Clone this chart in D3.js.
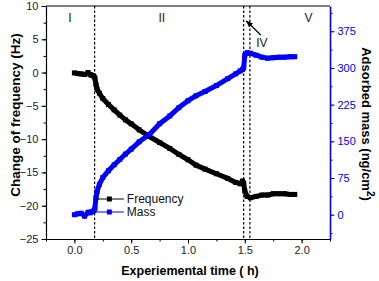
<!DOCTYPE html>
<html>
<head>
<meta charset="utf-8">
<script src="https://cdn.jsdelivr.net/npm/d3@7"></script>
<style>
  body { margin: 0; background: #fff; }
  text { font-family: "Liberation Sans", Arial, sans-serif; }
</style>
</head>
<body>
<svg id="chart" width="379" height="281"></svg>
<script>
// time (h) of each sample
const time = [0.00, 0.03, 0.06, 0.09, 0.12, 0.14, 0.15, 0.17, 0.18, 0.19, 0.20, 0.22, 0.25, 0.30,
  0.35, 0.40, 0.45, 0.50, 0.57, 0.66, 0.75, 0.84, 0.92, 1.00, 1.07, 1.15, 1.25, 1.35, 1.42,
  1.46, 1.48, 1.49, 1.50, 1.52, 1.55, 1.60, 1.65, 1.70, 1.75, 1.80, 1.85, 1.90, 1.94];
// change of frequency (Hz)
const frequency = [-0.05, -0.15, -0.2, -0.3, 0.0, -0.3, -0.4, -0.5, -0.8, -1.8, -2.5, -3.1, -3.9, -4.8,
  -5.6, -6.4, -7.1, -7.7, -8.6, -9.6, -10.5, -11.4, -12.3, -13.1, -13.9, -14.5, -15.2, -15.9, -16.5,
  -16.7, -16.3, -16.6, -17.8, -18.6, -18.8, -18.6, -18.4, -18.4, -18.2, -18.2, -18.2, -18.3, -18.3];
// adsorbed mass (ng/cm2)
const mass = [0, 2, 3, -3, 5, 4, 6, 8, 12, 35, 48, 62, 76, 90,
  102, 113, 124, 134, 149, 164, 186, 202, 219, 233, 243, 252, 264, 278, 288,
  294, 297, 300, 326, 331, 330, 326, 322, 320, 321, 322, 322, 323, 323];

const leftTicks = [10, 5, 0, -5, -10, -15, -20, -25];
const rightTicks = [0, 75, 150, 225, 300, 375];
const xTicks = [0.0, 0.5, 1.0, 1.5, 2.0];
const stageLines = [0.178, 1.49, 1.545];
const stageLabels = [
  { text: "I", t: -0.04 },
  { text: "II", t: 0.77 },
  { text: "V", t: 2.06 }
];

const svg = d3.select("#chart");
const margin = { top: 6, right: 49, bottom: 42, left: 46 };
const width = 379 - margin.left - margin.right;
const height = 281 - margin.top - margin.bottom;
const blue = "#0000ff";

const g = svg.append("g").attr("transform", `translate(${margin.left},${margin.top})`);

const x = d3.scaleLinear().domain([-0.25, 2.25]).range([0, width]);
const yL = d3.scaleLinear().domain([-25, 10]).range([height, 0]);
const yR = d3.scaleLinear().domain([-49.6, 426.6]).range([height, 0]);

// axes
const fmtX = d3.format(".1f");
const bottomMinor = d3.range(-0.25, 2.26, 0.25);
g.append("g")
  .attr("transform", `translate(0,${height})`)
  .call(d3.axisBottom(x).tickValues(bottomMinor).tickSize(2.5).tickFormat(""))
  .call(a => a.select(".domain").remove());
g.append("g")
  .attr("class", "xaxis")
  .attr("transform", `translate(0,${height})`)
  .call(d3.axisBottom(x).tickValues(xTicks).tickSize(4.5).tickSizeOuter(0).tickFormat(fmtX));

g.append("g")
  .call(d3.axisLeft(yL).tickValues(d3.range(-25, 10.1, 2.5)).tickSize(2.5).tickFormat(""))
  .call(a => a.select(".domain").remove());
g.append("g")
  .attr("class", "yaxis")
  .call(d3.axisLeft(yL).tickValues(leftTicks).tickSize(4.5).tickSizeOuter(0));

const rightMinor = d3.range(-37.5, 426, 37.5);
g.append("g")
  .attr("transform", `translate(${width},0)`)
  .call(d3.axisRight(yR).tickValues(rightMinor).tickSize(2.5).tickFormat(""))
  .call(a => a.select(".domain").remove())
  .selectAll("line").attr("stroke", blue);
const rAxis = g.append("g")
  .attr("class", "raxis")
  .attr("transform", `translate(${width},0)`)
  .call(d3.axisRight(yR).tickValues(rightTicks).tickSize(4.5).tickSizeOuter(0));
rAxis.selectAll("line").attr("stroke", blue);
rAxis.select(".domain").attr("stroke", blue).attr("stroke-width", 1.6);
rAxis.selectAll("text").attr("fill", blue);

// top frame line
g.append("line").attr("x1", 0).attr("x2", width).attr("y1", 0).attr("y2", 0)
  .attr("stroke", "#000").attr("stroke-width", 1);

g.selectAll(".xaxis text, .yaxis text, .raxis text")
  .style("font-size", "11px")
  .style("font-family", "Liberation Sans, Arial, sans-serif");
g.selectAll(".xaxis text, .yaxis text").attr("fill", "#222");
g.selectAll(".xaxis .domain, .yaxis .domain").attr("stroke-width", 1.2);

// dashed stage lines
g.selectAll(".stage")
  .data(stageLines)
  .enter().append("line")
  .attr("x1", d => x(d)).attr("x2", d => x(d))
  .attr("y1", 0).attr("y2", height)
  .attr("stroke", "#000").attr("stroke-width", 1.2)
  .attr("stroke-dasharray", "2.5,2");

// series
const freqData = time.map((t, i) => ({ t, v: frequency[i] }));
const massData = time.map((t, i) => ({ t, v: mass[i] }));

const drawSeries = (data, yScale, color) => {
  g.append("path")
    .datum(data)
    .attr("fill", "none")
    .attr("stroke", color)
    .attr("stroke-width", 5)
    .attr("stroke-linejoin", "round")
    .attr("d", d3.line().x(d => x(d.t)).y(d => yScale(d.v)));
  g.append("g").selectAll("rect")
    .data(data)
    .enter().append("rect")
    .attr("x", d => x(d.t) - 2.5)
    .attr("y", d => yScale(d.v) - 2.5)
    .attr("width", 5).attr("height", 5)
    .attr("fill", color);
};
drawSeries(freqData, yL, "#000");
drawSeries(massData, yR, blue);

// stage labels
g.selectAll(".stagelabel")
  .data(stageLabels)
  .enter().append("text")
  .attr("x", d => x(d.t))
  .attr("y", 16)
  .attr("text-anchor", "middle")
  .style("font-size", "12px")
  .attr("fill", "#222")
  .text(d => d.text);

g.append("text")
  .attr("x", x(1.65)).attr("y", 41)
  .attr("text-anchor", "middle")
  .style("font-size", "12px")
  .attr("fill", "#222")
  .text("IV");

// arrow pointing to stage IV
svg.append("defs").append("marker")
  .attr("id", "arr").attr("viewBox", "0 0 10 10")
  .attr("refX", 9).attr("refY", 5)
  .attr("markerWidth", 6).attr("markerHeight", 6)
  .attr("orient", "auto")
  .append("path").attr("d", "M0,1 L10,5 L0,9 z").attr("fill", "#000");
g.append("line")
  .attr("x1", x(1.64)).attr("y1", 29)
  .attr("x2", x(1.515)).attr("y2", 15)
  .attr("stroke", "#000").attr("stroke-width", 1.2)
  .attr("marker-end", "url(#arr)");

// legend
const legend = g.append("g").attr("transform", `translate(${x(0.18)},0)`);
[["Frequency", "#000", 193], ["Mass", blue, 206]].forEach(([name, color, yy]) => {
  const row = legend.append("g");
  row.append("line").attr("x1", 0).attr("x2", 29).attr("y1", yy).attr("y2", yy)
    .attr("stroke", color).attr("stroke-width", 1);
  row.append("rect").attr("x", 12).attr("y", yy - 2.5).attr("width", 5).attr("height", 5).attr("fill", color);
  row.append("text").attr("x", 32).attr("y", yy + 4)
    .style("font-size", "12px").attr("fill", "#111").text(name);
});

// axis titles
svg.append("text")
  .attr("transform", `translate(20,115) rotate(-90)`)
  .attr("text-anchor", "middle")
  .style("font-size", "13.5px").style("font-weight", "bold")
  .text("Change of frequency (Hz)");

const rt = svg.append("text")
  .attr("transform", `translate(362,124) rotate(90)`)
  .attr("text-anchor", "middle")
  .style("font-size", "13px").style("font-weight", "bold");
rt.append("tspan").text("Adsorbed mass (ng/cm");
rt.append("tspan").attr("dy", -5).style("font-size", "10px").text("2");
rt.append("tspan").attr("dy", 5).text(")");

svg.append("text")
  .attr("x", margin.left + width / 2 + 2).attr("y", 275)
  .attr("text-anchor", "middle")
  .style("font-size", "12.5px").style("font-weight", "bold")
  .text("Experiemental time ( h)");
</script>
</body>
</html>
